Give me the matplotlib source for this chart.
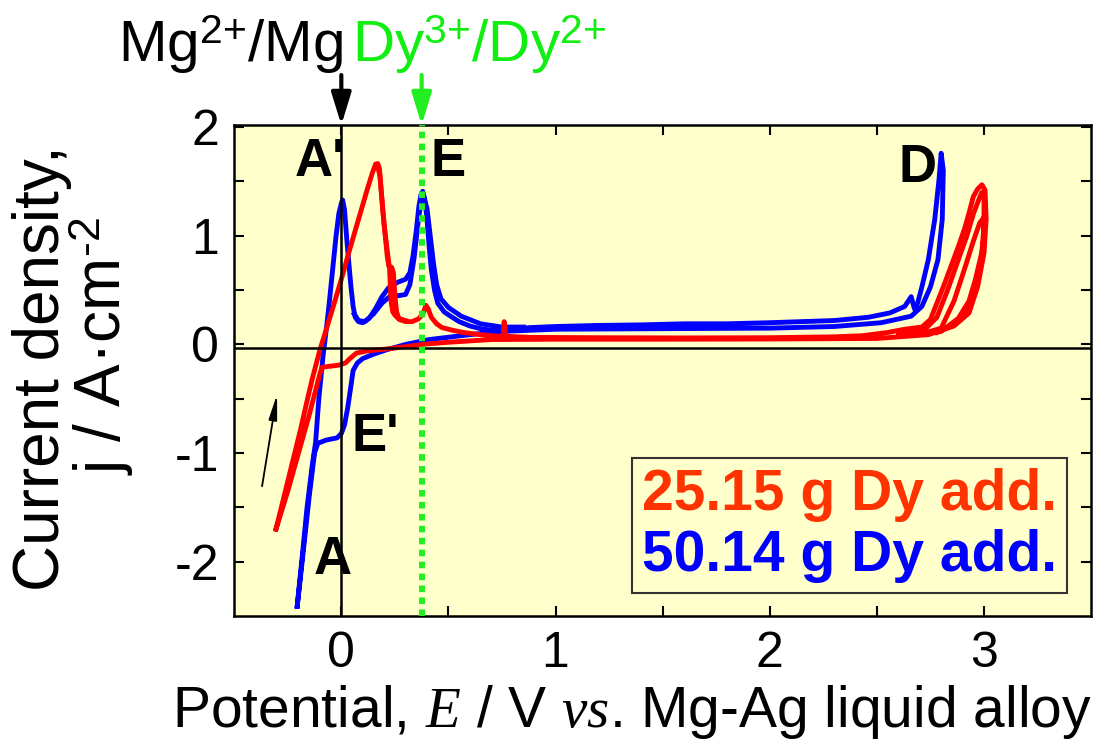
import matplotlib
matplotlib.use('Agg')
import matplotlib.pyplot as plt
from matplotlib.lines import Line2D
import numpy as np

plt.rcParams['font.family'] = ['Liberation Sans', 'DejaVu Sans']
plt.rcParams['mathtext.fontset'] = 'custom'
plt.rcParams['mathtext.rm'] = 'Liberation Sans'
plt.rcParams['mathtext.it'] = 'Liberation Serif:italic'
plt.rcParams['mathtext.bf'] = 'Liberation Sans:bold'
plt.rcParams['axes.unicode_minus'] = False

# ---------------- data ----------------
# 50.14 g Dy addition: one full cycle (anodic sweep from A, back along cathodic sweep)
blue_x = [-0.206, -0.185, -0.16, -0.135, -0.12, -0.105, -0.085, -0.07, -0.056, -0.04,
          -0.025, -0.012, 0.0, 0.006, 0.015, 0.025, 0.035, 0.045, 0.055, 0.065,
          0.08, 0.10, 0.13, 0.16, 0.19, 0.22, 0.26, 0.30, 0.32, 0.335,
          0.35, 0.362, 0.372, 0.38, 0.39, 0.40, 0.41, 0.42, 0.435, 0.45,
          0.48, 0.51, 0.55, 0.60, 0.66, 0.72, 0.80, 0.88, 1.0, 1.2,
          1.4, 1.6, 1.8, 2.0, 2.15, 2.3, 2.46, 2.56, 2.63, 2.66,
          2.675, 2.69, 2.71, 2.74, 2.77, 2.79, 2.80,
          2.81, 2.805, 2.785, 2.75, 2.71, 2.66, 2.52, 2.3, 2.0, 1.5,
          1.0, 0.75, 0.60, 0.41, 0.30, 0.21, 0.15, 0.10, 0.075, 0.055,
          0.045, 0.03, 0.015, 0.0, -0.02, -0.07, -0.11, -0.125, -0.15, -0.18, -0.206]
blue_y = [-2.41, -2.00, -1.50, -1.10, -0.90, -0.50, -0.10, 0.14, 0.39, 0.70,
          0.99, 1.20, 1.30, 1.33, 1.24, 0.98, 0.75, 0.53, 0.35, 0.25,
          0.21, 0.20, 0.24, 0.33, 0.44, 0.52, 0.57, 0.60, 0.66, 0.82,
          1.05, 1.27, 1.38, 1.41, 1.33, 1.15, 0.90, 0.69, 0.50, 0.38,
          0.30, 0.26, 0.21, 0.17, 0.14, 0.13, 0.14, 0.155, 0.165, 0.175,
          0.18, 0.19, 0.19, 0.20, 0.21, 0.22, 0.25, 0.29, 0.35, 0.44,
          0.33, 0.38, 0.53, 0.78, 1.15, 1.52, 1.76,
          1.60, 1.15, 0.78, 0.53, 0.35, 0.26, 0.20, 0.165, 0.15, 0.145,
          0.14, 0.12, 0.09, 0.045, 0.0, -0.05, -0.09, -0.13, -0.17, -0.24,
          -0.38, -0.58, -0.74, -0.82, -0.86, -0.88, -0.91, -1.00, -1.40, -1.95, -2.41]

# second blue cycle, part that does not overlap the first one
blue2_x = [0.06, 0.08, 0.11, 0.15, 0.19, 0.225, 0.27, 0.30, 0.32, 0.34, 0.36, 0.375,
           0.385, 0.40, 0.415, 0.43, 0.445, 0.465, 0.50, 0.56, 0.65, 0.75, 0.85]
blue2_y = [0.28, 0.22, 0.21, 0.28, 0.38, 0.44, 0.45, 0.46, 0.55, 0.80, 1.15, 1.35,
           1.36, 1.25, 1.00, 0.75, 0.55, 0.42, 0.34, 0.26, 0.19, 0.16, 0.16]

# 25.15 g Dy addition: one full cycle
red_x = [-0.305, -0.27, -0.23, -0.19, -0.16, -0.136, -0.10, -0.07, -0.03, 0.0,
         0.04, 0.08, 0.12, 0.145, 0.16, 0.17, 0.178, 0.185, 0.195, 0.205,
         0.215, 0.222, 0.235, 0.243, 0.25, 0.258, 0.27, 0.30, 0.33, 0.36,
         0.38, 0.395, 0.405, 0.42, 0.445, 0.47, 0.52, 0.57, 0.65, 0.72,
         0.755, 0.76, 0.768, 0.88, 1.2, 1.6, 2.0, 2.3, 2.43, 2.55,
         2.63, 2.71, 2.75, 2.78, 2.81, 2.85, 2.88, 2.91, 2.93, 2.95,
         2.97, 2.99, 3.005,
         3.01, 3.0, 2.97, 2.93, 2.86, 2.74, 2.5, 2.0, 1.5, 1.0,
         0.7, 0.5, 0.4, 0.3, 0.22, 0.12, 0.07, 0.04, 0.02, -0.01,
         -0.05, -0.09, -0.10, -0.15, -0.20, -0.25, -0.305]
red_y = [-1.70, -1.42, -1.10, -0.78, -0.52, -0.32, -0.05, 0.14, 0.40, 0.60,
         0.88, 1.15, 1.42, 1.58, 1.66, 1.665, 1.62, 1.45, 1.20, 1.00,
         0.80, 0.72, 0.71, 0.66, 0.45, 0.30, 0.23, 0.21, 0.21, 0.235,
         0.28, 0.36, 0.33, 0.25, 0.19, 0.155, 0.13, 0.11, 0.09, 0.078,
         0.075, 0.21, 0.075, 0.065, 0.062, 0.06, 0.062, 0.07, 0.08, 0.11,
         0.14, 0.16, 0.23, 0.38, 0.53, 0.74, 0.90, 1.07, 1.21, 1.36,
         1.43, 1.47, 1.42,
         1.15, 0.84, 0.53, 0.29, 0.17, 0.09, 0.055, 0.05, 0.048, 0.048,
         0.045, 0.02, 0.005, -0.02, -0.04, -0.06, -0.08, -0.13, -0.17, -0.19,
         -0.20, -0.21, -0.27, -0.65, -1.00, -1.35, -1.70]

# second red cycle near A' (falling edge without shoulder)
red2_x = [0.17, 0.18, 0.19, 0.20, 0.215, 0.225, 0.232, 0.24, 0.25, 0.265, 0.30]
red2_y = [1.64, 1.55, 1.32, 1.10, 0.85, 0.70, 0.40, 0.30, 0.27, 0.24, 0.22]

# further red cycles near D
red3_x = [2.60, 2.72, 2.78, 2.83, 2.88, 2.92, 2.95, 2.975, 2.99, 3.0, 3.0, 2.99, 2.96, 2.93,
          2.88, 2.80, 2.70, 2.80, 2.86, 2.91, 2.95, 2.98, 3.0, 3.0, 2.985, 2.96, 2.92, 2.87, 2.78]
red3_y = [0.10, 0.13, 0.25, 0.50, 0.78, 1.00, 1.20, 1.33, 1.40, 1.35, 1.10, 0.85, 0.60, 0.40,
          0.24, 0.12, 0.09, 0.15, 0.40, 0.70, 0.95, 1.12, 1.17, 1.00, 0.75, 0.52, 0.32, 0.19, 0.11]

series_labels = ['25.15 g Dy add.', '50.14 g Dy add.']
series_colors = ['#FF3300', '#0000FF']
xticks = [0, 1, 2, 3]
yticks = [-2, -1, 0, 1, 2]
mg_potential = 0.0
dy_potential = 0.375
zero_line = -0.035

# ---------------- figure ----------------
fig = plt.figure(figsize=(11.1, 7.44), dpi=100)
ax = fig.add_axes([0.211, 0.172, 0.772, 0.660])
ax.set_facecolor('#FFFFCC')
ax.set_xlim(-0.5, 3.5)
ax.set_ylim(-2.5, 2.02)

lw = 3.5
ax.plot(blue_x, blue_y, color='#0000FF', lw=lw, solid_joinstyle='round', zorder=2)
ax.plot(blue2_x, blue2_y, color='#0000FF', lw=lw, solid_joinstyle='round', zorder=2)
ax.plot(red_x, red_y, color='#FF0000', lw=lw, solid_joinstyle='round', zorder=2.1)
ax.plot(red2_x, red2_y, color='#FF0000', lw=lw, solid_joinstyle='round', zorder=2.1)
ax.plot(red3_x, red3_y, color='#FF0000', lw=lw, solid_joinstyle='round', zorder=2.1)

ax.axhline(zero_line, color='black', lw=1.8, zorder=3)
ax.axvline(mg_potential, color='black', lw=1.8, zorder=3)
ax.axvline(dy_potential, color='#22EE22', lw=4.3, ls=(0, (1.1, 0.9)), zorder=4)

ax.set_xticks(xticks)
ax.set_xticks([0.5, 1.5, 2.5], minor=True)
ax.set_yticks(yticks)
ax.set_yticks([-1.5, -0.5, 0.5, 1.5], minor=True)
ax.tick_params(which='both', direction='in', length=7, width=1.5,
               top=True, right=True, labelsize=36, pad=11)
for s in ax.spines.values():
    s.set_linewidth(1.8)

fig.text(632 / 1110, 1 - 712 / 744, 'Potential, $\\mathit{E}$ / V $\\mathit{vs.}\\,$Mg-Ag liquid alloy',
         fontsize=41, ha='center', va='center')
fig.text(0.038, 0.505, 'Current density,', rotation=90, fontsize=46, ha='center', va='center')
fig.text(0.091, 0.535, 'j / A\u00b7cm$^{\\text{-2}}$', rotation=90, fontsize=46, ha='center', va='center')

# annotations
for lab, (tx, ty) in {"A'": (-0.10, 1.68), 'E': (0.50, 1.68), 'D': (2.69, 1.62),
                      "E'": (0.16, -0.85), 'A': (-0.04, -1.98)}.items():
    ax.text(tx, ty, lab, fontsize=38, fontweight='bold', ha='center', va='center', zorder=5)

ax.annotate('', xy=(-0.30, -0.46), xytext=(-0.37, -1.305),
            arrowprops=dict(arrowstyle='-|>,head_length=0.6,head_width=0.1', lw=1.3,
                            color='black', mutation_scale=25, shrinkA=0, shrinkB=0))

ax.annotate('', xy=(mg_potential, 2.02), xytext=(mg_potential, 2.48), annotation_clip=False,
            arrowprops=dict(arrowstyle='-|>,head_length=0.65,head_width=0.2', lw=3,
                            color='black', mutation_scale=30, shrinkA=0, shrinkB=0))
ax.annotate('', xy=(dy_potential, 2.02), xytext=(dy_potential, 2.48), annotation_clip=False,
            arrowprops=dict(arrowstyle='-|>,head_length=0.65,head_width=0.2', lw=3,
                            color='#22EE22', mutation_scale=30, shrinkA=0, shrinkB=0))

fig.text(343 / 1110, 1 - 62 / 744, 'Mg$^{2{+}}$/Mg', fontsize=42, color='black', ha='right', va='baseline')
fig.text(352 / 1110, 1 - 62 / 744, 'Dy$^{3{+}}$/Dy$^{2{+}}$', fontsize=42, color='#11EE11', ha='left', va='baseline')

handles = [Line2D([], [], lw=0) for _ in series_labels]
leg = ax.legend(handles, series_labels, loc='lower right', bbox_to_anchor=(0.972, 0.047),
                borderaxespad=0, handlelength=0, handletextpad=0, labelspacing=0.12,
                borderpad=0.18, frameon=True, fancybox=False, framealpha=1,
                facecolor='#FFFFCC', edgecolor='#333333',
                prop={'size': 41, 'weight': 'bold'})
leg.get_frame().set_linewidth(1.5)
for t, c in zip(leg.get_texts(), series_colors):
    t.set_color(c)

fig.savefig('out.png', dpi=100)
